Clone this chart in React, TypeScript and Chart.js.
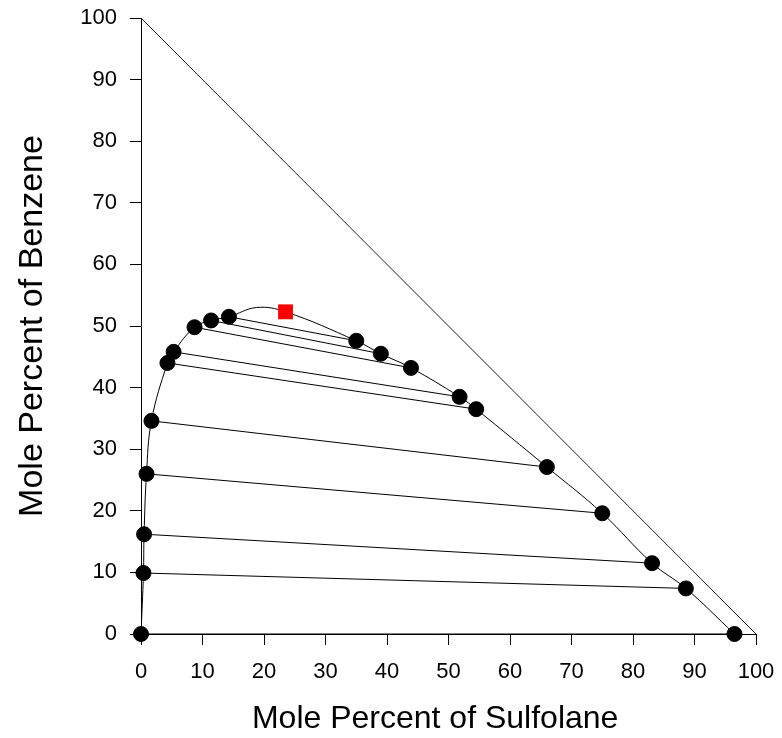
import { useEffect, useRef } from 'react';
import { Chart, registerables } from 'chart.js';
Chart.register(...registerables);

// Raffinate phase (sulfolane-poor) compositions, mole %
const raffinateSulfolane = [0, 0.4, 0.5, 0.9, 1.7, 4.3, 5.3, 8.7, 11.4, 14.3];
const raffinateBenzene = [0, 9.9, 16.2, 26.0, 34.6, 44.0, 45.8, 49.8, 50.9, 51.5];
// Extract phase (sulfolane-rich) compositions, paired by index with raffinate
const extractSulfolane = [96.5, 88.6, 83.1, 75.0, 66.0, 54.5, 51.8, 43.9, 39.0, 35.0];
const extractBenzene = [0, 7.4, 11.5, 19.6, 27.1, 36.5, 38.5, 43.2, 45.5, 47.6];
// Plait point
const plaitSulfolane = [23.5];
const plaitBenzene = [52.3];
// Binodal curve top (between raffinate and plait point)
const peakSulfolane = [18.8];
const peakBenzene = [53.0];
// Triangle edge
const edgeSulfolane = [0, 100];
const edgeBenzene = [100, 0];
const tickValues = [0, 10, 20, 30, 40, 50, 60, 70, 80, 90, 100];

const FONT = '"Liberation Sans", Arial, Helvetica, sans-serif';

export default function App() {
  const ref = useRef<HTMLCanvasElement | null>(null);
  useEffect(() => {
    if (!ref.current) return;
    const pts = (xs: number[], ys: number[]) => xs.map((x, i) => ({ x, y: ys[i] }));
    const curve = [
      ...pts(raffinateSulfolane, raffinateBenzene),
      ...pts(peakSulfolane, peakBenzene),
      ...pts(plaitSulfolane, plaitBenzene),
      ...pts(extractSulfolane, extractBenzene).reverse(),
    ];
    const ties = raffinateSulfolane.map((x, i) => ({
      type: 'line' as const,
      data: [
        { x, y: raffinateBenzene[i] },
        { x: extractSulfolane[i], y: extractBenzene[i] },
      ],
      borderColor: '#000',
      borderWidth: 1,
      pointRadius: 0,
      showLine: true,
      order: 3,
    }));
    const chart = new Chart(ref.current, {
      type: 'scatter',
      data: {
        datasets: [
          {
            type: 'scatter',
            data: [...pts(raffinateSulfolane, raffinateBenzene), ...pts(extractSulfolane, extractBenzene)],
            backgroundColor: '#000',
            borderColor: '#000',
            borderWidth: 1,
            pointRadius: 7.5,
            showLine: false,
            clip: false,
            order: 0,
          },
          {
            type: 'scatter',
            data: pts(plaitSulfolane, plaitBenzene),
            backgroundColor: '#ff0000',
            borderColor: '#ff0000',
            borderWidth: 0,
            pointStyle: 'rect',
            pointRadius: 10.5,
            showLine: false,
            clip: false,
            order: 1,
          },
          {
            type: 'line',
            data: curve,
            borderColor: '#000',
            borderWidth: 1,
            pointRadius: 0,
            tension: 0.4,
            order: 2,
          },
          ...ties,
          {
            type: 'line',
            data: pts(edgeSulfolane, edgeBenzene),
            borderColor: '#222',
            borderWidth: 1,
            pointRadius: 0,
            order: 4,
          },
        ] as any,
      },
      options: {
        responsive: false,
        animation: false,
        events: [],
        layout: { padding: { top: 18, right: 26, left: 0, bottom: 0 } },
        plugins: { legend: { display: false }, tooltip: { enabled: false } },
        scales: {
          x: {
            type: 'linear',
            min: 0,
            max: 100,
            afterBuildTicks: (s: any) => { s.ticks = tickValues.map((v) => ({ value: v })); },
            afterFit: (s: any) => { s.height = 104; s.paddingLeft = 0; s.paddingRight = 0; },
            border: { display: true, color: '#000', width: 1 },
            grid: { drawOnChartArea: false, drawTicks: true, tickLength: 11, color: '#000' },
            ticks: { color: '#000', padding: 14, font: { family: FONT, size: 22 } },
            title: {
              display: true,
              text: 'Mole Percent of Sulfolane   ',
              color: '#000',
              font: { family: FONT, size: 32 },
              padding: { top: 0, bottom: 0 },
            },
          },
          y: {
            type: 'linear',
            min: 0,
            max: 100,
            afterBuildTicks: (s: any) => { s.ticks = tickValues.map((v) => ({ value: v })); },
            afterFit: (s: any) => { s.width = 141; s.paddingTop = 0; s.paddingBottom = 0; },
            border: { display: true, color: '#000', width: 1 },
            grid: { drawOnChartArea: false, drawTicks: true, tickLength: 11, color: '#000' },
            ticks: { color: '#000', padding: 13, font: { family: FONT, size: 22 } },
            title: {
              display: true,
              text: 'Mole Percent of Benzene',
              color: '#000',
              font: { family: FONT, size: 34 },
              padding: { top: 12, bottom: 0 },
            },
          },
        },
      },
    });
    return () => chart.destroy();
  }, []);
  return (
    <div style={{ position: 'absolute', left: 0, top: 0, width: 782, height: 738 }}>
      <canvas ref={ref} width={782} height={738} />
    </div>
  );
}
